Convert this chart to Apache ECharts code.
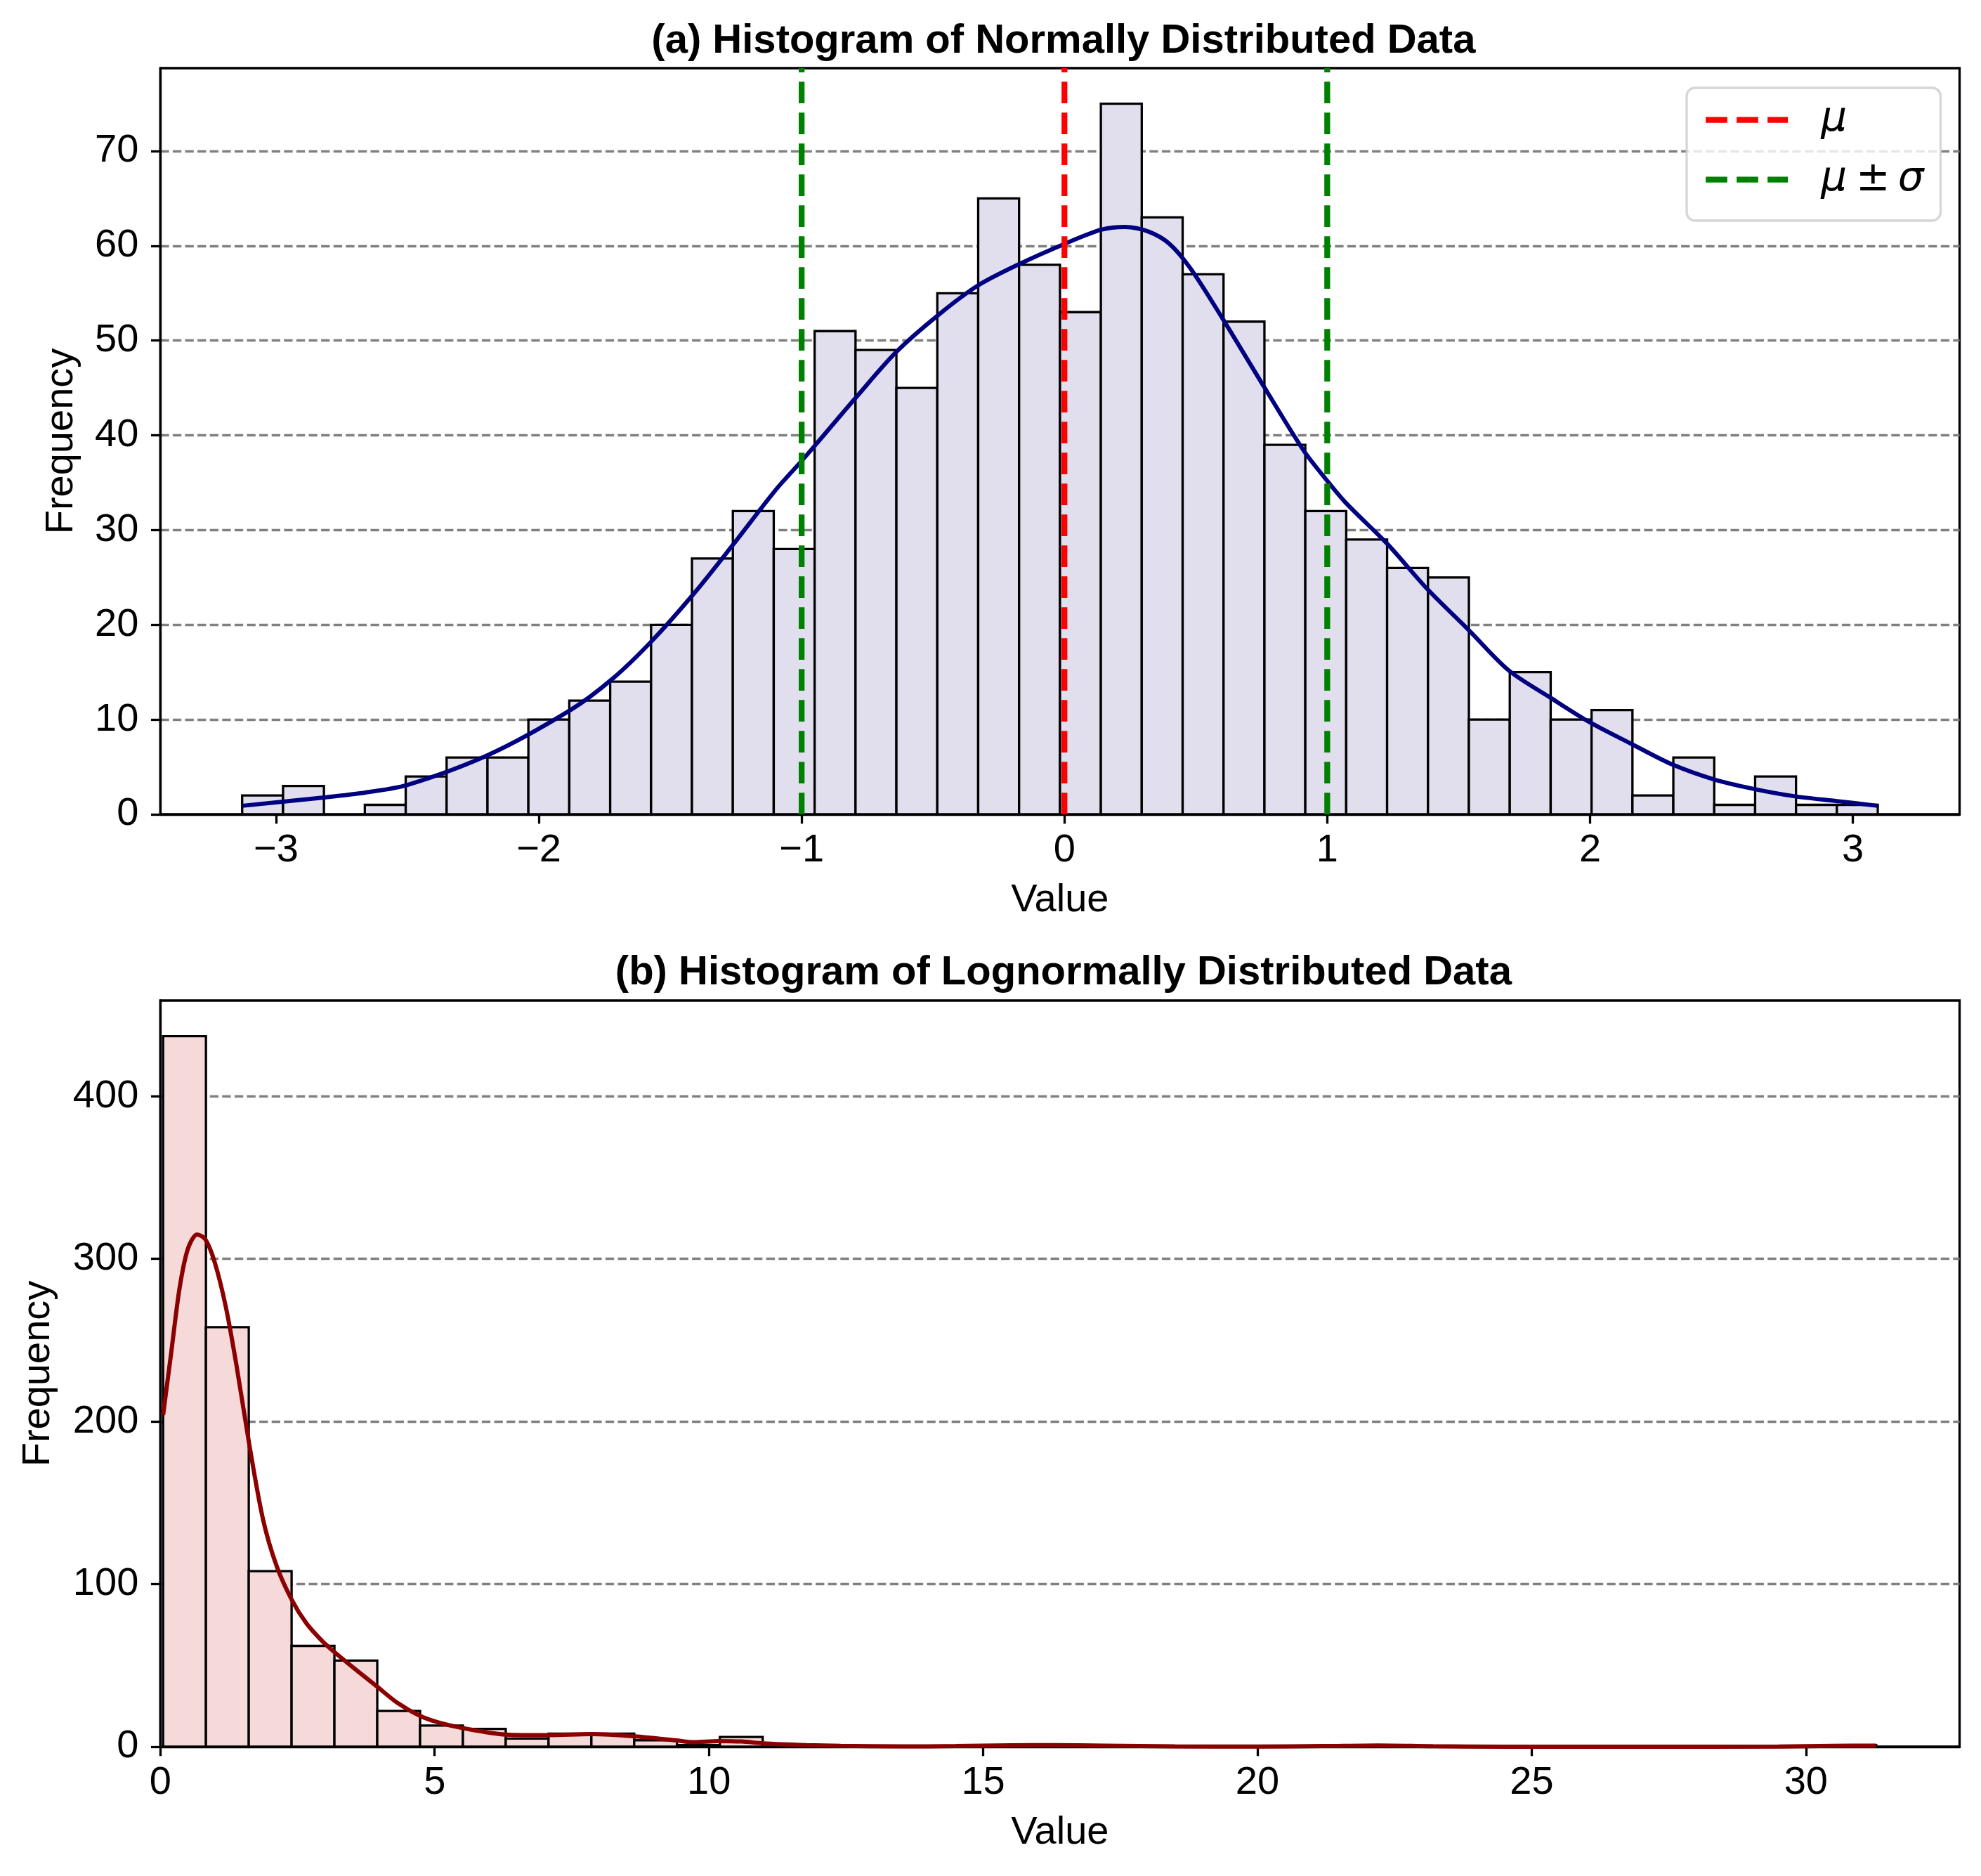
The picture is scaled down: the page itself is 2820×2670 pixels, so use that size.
<!DOCTYPE html>
<html>
<head>
<meta charset="utf-8">
<title>Histograms</title>
<script src="https://cdn.jsdelivr.net/npm/echarts@6/dist/echarts.min.js"></script>
<style>
  html, body { margin: 0; padding: 0; background: #fff; }
  #chart { width: 2820px; height: 2670px; }
</style>
</head>
<body>
<div id="chart"></div>
<script>
// (a) normal sample, 40 bins between data min and max
const normBinRange = [-3.129, 3.095]
const normCounts = [2, 3, 0, 1, 4, 6, 6, 10, 12, 14,
  20, 27, 32, 28, 51, 49, 45, 55, 65, 58,
  53, 75, 63, 57, 52, 39, 32, 29, 26, 25,
  10, 15, 10, 11, 2, 6, 1, 4, 1, 1]
const normKde = [[-3.129, 0.9], [-2.81, 1.8], [-2.66, 2.3], [-2.5, 3.1], [-2.19, 6.3], [-1.88, 11.0],
  [-1.72, 14.3], [-1.57, 18.3], [-1.41, 23.3], [-1.26, 28.5], [-1.1, 34.2], [-1.0, 37.3],
  [-0.95, 38.9], [-0.79, 44.1], [-0.64, 48.8], [-0.48, 52.7], [-0.33, 55.8], [-0.17, 58.1],
  [0, 60.2], [0.14, 61.7], [0.23, 62.0], [0.32, 61.5], [0.4, 60.2], [0.48, 57.6], [0.6, 52.4],
  [0.76, 45.1], [0.91, 38.4], [1.0, 35.2], [1.07, 32.9], [1.23, 28.5], [1.38, 23.8], [1.54, 19.4],
  [1.69, 15.2], [1.85, 12.3], [2.0, 9.7], [2.16, 7.4], [2.31, 5.3], [2.47, 3.7], [2.62, 2.7],
  [2.78, 1.9], [2.94, 1.4], [3.095, 0.9]]
const normMu = 0
const normSigma = 1
const normXTicks = [-3, -2, -1, 0, 1, 2, 3]
const normYTicks = [0, 10, 20, 30, 40, 50, 60, 70]

// (b) lognormal sample, 40 bins
const logBinRange = [0.05, 31.28]
const logCounts = [437, 258, 108, 62, 53, 22, 13, 11, 5, 8,
  8, 4, 1, 6, 0, 0, 0, 0, 0, 1,
  0, 1, 0, 0, 0, 0, 0, 0, 1, 0,
  0, 0, 0, 0, 0, 0, 0, 0, 0, 1]
const logKde = [[0.05, 204], [0.2, 243], [0.35, 282], [0.5, 306], [0.67, 315], [0.82, 312],
  [0.99, 298], [1.19, 271], [1.38, 236], [1.62, 186], [1.87, 140], [2.12, 111], [2.4, 90],
  [2.66, 76], [2.95, 65], [3.18, 58], [3.54, 48], [3.95, 37], [4.32, 27], [4.73, 19],
  [5.1, 14.6], [5.52, 11.4], [6.29, 7.5], [7.08, 7.1], [7.86, 7.8], [8.65, 6.4], [9.4, 3.9],
  [9.72, 2.8], [10.18, 3.5], [10.6, 3.2], [10.98, 2.1], [11.78, 1.0], [12.4, 0.5], [13.5, 0.2],
  [14.5, 0.4], [15.5, 0.9], [16.3, 1.0], [17.2, 0.7], [18.5, 0.2], [20, 0.1], [21.2, 0.4],
  [22.2, 0.8], [23.2, 0.3], [24.5, 0.05], [27, 0.02], [29.5, 0.1], [30.5, 0.5], [31.28, 0.7]]
const logXTicks = [0, 5, 10, 15, 20, 25, 30]
const logYTicks = [0, 100, 200, 300, 400]

const FONT = "'Liberation Sans', Arial, Helvetica, sans-serif"
const LW = 3.3

// matplotlib-style 5% margins
const normSpan = normBinRange[1] - normBinRange[0]
const normXLim = [normBinRange[0] - 0.05 * normSpan, normBinRange[1] + 0.05 * normSpan]
const normYMax = Math.max(...normCounts) * 1.05
const logXLim = [0, 32.8]
const logYMax = Math.max(...logCounts) * 1.05

function binItems(range, counts) {
  let w = (range[1] - range[0]) / counts.length
  return counts.map((c, i) => [range[0] + i * w, range[0] + (i + 1) * w, c])
}

function fmt(v) {
  return v < 0 ? "\u2212" + (-v) : String(v)
}

function histSeries(idx, range, counts, fill) {
  return {
    type: "custom",
    xAxisIndex: idx,
    yAxisIndex: idx,
    data: binItems(range, counts),
    encode: { x: [0, 1], y: 2 },
    z: 2,
    silent: true,
    renderItem: (params, api) => {
      if (!api.value(2)) return null
      let top = api.coord([api.value(0), api.value(2)])
      let base = api.coord([api.value(1), 0])
      return {
        type: "rect",
        shape: { x: top[0], y: top[1], width: base[0] - top[0], height: base[1] - top[1] },
        style: { fill: fill, stroke: "#000", lineWidth: LW }
      }
    }
  }
}

function xAxis(idx, lim, ticks, nameGap) {
  return {
    type: "value",
    gridIndex: idx,
    min: lim[0],
    max: lim[1],
    name: "Value",
    nameLocation: "middle",
    nameGap: nameGap,
    nameTextStyle: { fontFamily: FONT, fontSize: 56, color: "#000" },
    axisLine: { show: true, onZero: false, lineStyle: { color: "#000", width: LW } },
    axisTick: { show: true, customValues: ticks, length: 13.3, lineStyle: { color: "#000", width: LW } },
    axisLabel: { customValues: ticks, fontFamily: FONT, fontSize: 56, color: "#000", margin: 24, formatter: fmt },
    splitLine: { show: false }
  }
}

function yAxis(idx, max, ticks, nameGap) {
  return {
    type: "value",
    gridIndex: idx,
    min: 0,
    max: max,
    interval: ticks[1] - ticks[0],
    name: "Frequency",
    nameLocation: "middle",
    nameGap: nameGap,
    nameTextStyle: { fontFamily: FONT, fontSize: 56, color: "#000" },
    axisLine: { show: true, onZero: false, lineStyle: { color: "#000", width: LW } },
    axisTick: { show: true, customValues: ticks, length: 13.3, lineStyle: { color: "#000", width: LW } },
    axisLabel: {
      customValues: ticks, fontFamily: FONT, fontSize: 56, color: "#000", margin: 31,
      formatter: v => (ticks.indexOf(v) >= 0 ? fmt(v) : "")
    },
    splitLine: {
      show: true, showMinLine: false,
      lineStyle: { color: "#808080", width: LW, type: [12.3, 5.3] }
    }
  }
}

function vline(name, x, color) {
  return {
    name: name,
    type: "line",
    xAxisIndex: 0,
    yAxisIndex: 0,
    data: [[x, 0], [x, normYMax]],
    symbol: "none",
    silent: true,
    z: 5,
    itemStyle: { color: color },
    lineStyle: { color: color, width: 8.3, type: [30.7, 13.3], cap: "butt" }
  }
}

const titleStyle = { fontFamily: FONT, fontSize: 58, fontWeight: "bold", color: "#000" }

let chart = echarts.init(document.getElementById("chart"))
chart.setOption({
  animation: false,
  backgroundColor: "#fff",
  title: [
    { text: "(a) Histogram of Normally Distributed Data", left: 1508.9, top: 25, textAlign: "center", textStyle: titleStyle },
    { text: "(b) Histogram of Lognormally Distributed Data", left: 1508.9, top: 1351, textAlign: "center", textStyle: titleStyle }
  ],
  legend: {
    data: ["μ", "μ ± σ"],
    orient: "vertical",
    left: 2401,
    top: 125,
    padding: [10.7, 24, 23.3, 23],
    itemGap: 15,
    itemWidth: 117,
    itemHeight: 14,
    selectedMode: false,
    backgroundColor: "rgba(255,255,255,0.8)",
    borderColor: "rgba(204,204,204,0.8)",
    borderWidth: LW,
    borderRadius: 12,
    lineStyle: { width: 8.3 },
    itemStyle: { borderWidth: 0, opacity: 0 },
    formatter: n => (n === "μ" ? "μ" : "μ{p|±}σ"),
    textStyle: {
      fontFamily: "'DejaVu Sans'", fontStyle: "italic", fontSize: 58, lineHeight: 70, color: "#000",
      padding: [0, 0, 0, 42],
      rich: { p: { fontFamily: "'DejaVu Sans'", fontStyle: "normal", fontSize: 58, lineHeight: 70, color: "#000", padding: [0, 11, 0, 13] } }
    },
    z: 10
  },
  grid: [
    { left: 228.3, top: 97, width: 2561.2, height: 1062, show: true, borderColor: "#000", borderWidth: LW, backgroundColor: "transparent" },
    { left: 228.3, top: 1424, width: 2561.2, height: 1062, show: true, borderColor: "#000", borderWidth: LW, backgroundColor: "transparent" }
  ],
  xAxis: [
    xAxis(0, normXLim, normXTicks, 95),
    xAxis(1, logXLim, logXTicks, 95)
  ],
  yAxis: [
    yAxis(0, normYMax, normYTicks, 113),
    yAxis(1, logYMax, logYTicks, 146)
  ],
  series: [
    histSeries(0, normBinRange, normCounts, "#E1DFEE"),
    {
      type: "line", xAxisIndex: 0, yAxisIndex: 0, data: normKde, symbol: "none", smooth: 0.3, z: 3, silent: true,
      lineStyle: { color: "#000080", width: 6 }
    },
    vline("μ", normMu, "#FF0000"),
    vline("μ ± σ", normMu - normSigma, "#008000"),
    vline("μ ± σ", normMu + normSigma, "#008000"),
    histSeries(1, logBinRange, logCounts, "#F6DADA"),
    {
      type: "line", xAxisIndex: 1, yAxisIndex: 1, data: logKde, symbol: "none", smooth: 0.3, z: 3, silent: true,
      lineStyle: { color: "#8B0000", width: 6 }
    }
  ]
})
</script>
</body>
</html>
